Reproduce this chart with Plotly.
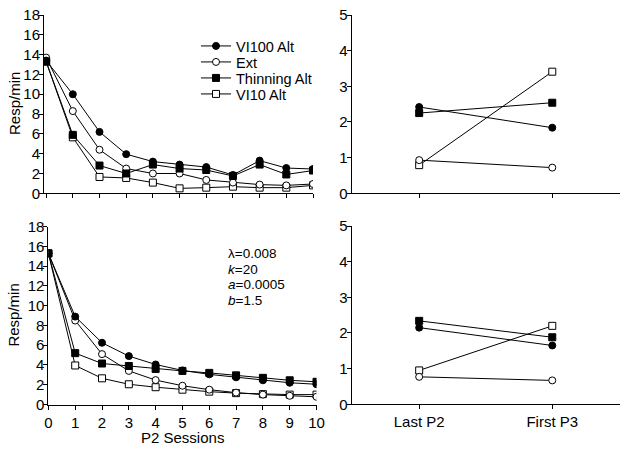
import plotly.graph_objects as go

# ---------------- data ----------------
sessions = list(range(11))
series_names = ["VI100 Alt", "Ext", "Thinning Alt", "VI10 Alt"]

top_vi100 = [13.4, 10.0, 6.2, 3.95, 3.2, 2.9, 2.65, 1.85, 3.3, 2.55, 2.45]
top_ext = [13.7, 8.3, 4.4, 2.5, 2.0, 2.0, 1.35, 1.08, 0.88, 0.8, 0.94]
top_thin = [13.3, 5.9, 2.8, 2.0, 2.9, 2.5, 2.35, 1.75, 2.9, 1.9, 2.3]
top_vi10 = [13.3, 5.65, 1.65, 1.55, 1.08, 0.5, 0.57, 0.67, 0.57, 0.57, 0.8]

bot_vi100 = [15.3, 8.9, 6.25, 4.9, 4.05, 3.45, 3.05, 2.75, 2.45, 2.2, 2.05]
bot_ext = [15.3, 8.5, 5.1, 3.4, 2.47, 1.9, 1.5, 1.2, 1.0, 0.88, 0.78]
bot_thin = [15.3, 5.2, 4.15, 3.9, 3.6, 3.4, 3.2, 2.95, 2.7, 2.45, 2.3]
bot_vi10 = [15.3, 3.95, 2.65, 2.05, 1.75, 1.5, 1.3, 1.15, 1.05, 1.0, 1.0]

phase_labels = ["Last P2", "First P3"]
phase_pos = [0, 1]
top_r_vi100 = [2.42, 1.84]
top_r_ext = [0.93, 0.72]
top_r_thin = [2.25, 2.54]
top_r_vi10 = [0.79, 3.41]

bot_r_vi100 = [2.15, 1.65]
bot_r_ext = [0.77, 0.67]
bot_r_thin = [2.34, 1.88]
bot_r_vi10 = [0.95, 2.2]

left_yticks = list(range(0, 19, 2))
right_yticks = list(range(0, 6))
param_lines = ["λ=0.008", "<i>k</i>=20", "<i>a</i>=0.0005", "<i>b</i>=1.5"]

# ---------------- styling ----------------
W, H = 629, 449
FONT = "Arial, 'Liberation Sans', sans-serif"
filled = [True, False, True, False]
symbols = ["circle", "circle", "square", "square"]


def px_x(p):
    return p / W


def px_y(p):
    return 1 - p / H


fig = go.Figure()

panels = [
    ("x", "y", sessions, [top_vi100, top_ext, top_thin, top_vi10], True),
    ("x2", "y2", phase_pos, [top_r_vi100, top_r_ext, top_r_thin, top_r_vi10], False),
    ("x3", "y3", sessions, [bot_vi100, bot_ext, bot_thin, bot_vi10], False),
    ("x4", "y4", phase_pos, [bot_r_vi100, bot_r_ext, bot_r_thin, bot_r_vi10], False),
]
legend_ids = ["legend", "legend2", "legend3", "legend4"]

for xa, ya, xs, ys_list, show in panels:
    for i in [3, 1, 2, 0]:
        fig.add_trace(go.Scatter(
            x=xs, y=ys_list[i], xaxis=xa, yaxis=ya,
            mode="lines+markers", name=series_names[i],
            line=dict(color="black", width=1),
            marker=dict(symbol=symbols[i], size=7,
                        color="black" if filled[i] else "white",
                        line=dict(color="black", width=1)),
            showlegend=show, legend=legend_ids[i],
        ))

axis_common = dict(
    showline=True, linecolor="black", linewidth=1, mirror=False,
    ticks="outside", ticklen=4, tickwidth=1, tickcolor="black",
    showgrid=False, zeroline=False, automargin=False,
    tickfont=dict(family=FONT, size=15, color="black"),
)
xcommon = dict(axis_common)
ycommon = dict(axis_common, ticklabelstandoff=-4)

fig.update_layout(
    width=W, height=H,
    margin=dict(l=0, r=0, t=0, b=0),
    paper_bgcolor="white", plot_bgcolor="white",
    font=dict(family=FONT, size=14, color="black"),
    xaxis=dict(xcommon, domain=[px_x(44), px_x(313)], range=[-0.08, 10],
               tickvals=sessions, showticklabels=False, anchor="y"),
    yaxis=dict(ycommon, domain=[px_y(193.3), px_y(15)], range=[0, 18],
               tickvals=left_yticks, anchor="x"),
    xaxis2=dict(xcommon, domain=[px_x(351.7), px_x(619.5)], range=[-0.507, 1.505],
                tickvals=phase_pos, showticklabels=False, anchor="y2"),
    yaxis2=dict(ycommon, domain=[px_y(193.3), px_y(15)], range=[0, 5],
                tickvals=right_yticks, anchor="x2"),
    xaxis3=dict(xcommon, domain=[px_x(48.4), px_x(316.5)], range=[0, 10],
                tickvals=sessions, anchor="y3"),
    yaxis3=dict(ycommon, domain=[px_y(404.5), px_y(226.7)], range=[0, 18],
                tickvals=left_yticks, anchor="x3"),
    xaxis4=dict(xcommon, domain=[px_x(351.7), px_x(619.5)], range=[-0.507, 1.505],
                tickvals=phase_pos, ticktext=phase_labels, anchor="y4"),
    yaxis4=dict(ycommon, domain=[px_y(404.3), px_y(226)], range=[0, 5],
                tickvals=right_yticks, anchor="x4"),
)

# axis titles
title_font = dict(family=FONT, size=15, color="black")
fig.add_annotation(text="P2 Sessions", xref="paper", yref="paper",
                   x=px_x(182.5), y=px_y(437), xanchor="center", yanchor="middle",
                   showarrow=False, borderpad=0, font=title_font)
for yc in (104, 315.6):
    fig.add_annotation(text="Resp/min", xref="paper", yref="paper",
                       x=px_x(14), y=px_y(yc), xanchor="center", yanchor="middle",
                       textangle=-90, showarrow=False, borderpad=0, font=title_font)

# legends: one per series so the row spacing can match the reference
legend_rows = [46, 62, 78, 94]
for lid, row in zip(legend_ids, legend_rows):
    fig.update_layout({lid: dict(
        x=px_x(196), y=px_y(row), xanchor="left", yanchor="middle",
        bgcolor="rgba(0,0,0,0)", borderwidth=0, itemwidth=30,
        font=dict(family=FONT, size=14.5, color="black"),
    )})

# model parameter text (slightly tighter line spacing than the default)
param_text = "<br>".join('<span style="font-size:13.5px">%s</span>' % s for s in param_lines)
fig.add_annotation(text=param_text, xref="paper", yref="paper",
                   x=px_x(227), y=px_y(245), xanchor="left", yanchor="top", align="left",
                   showarrow=False, borderpad=0,
                   font=dict(family=FONT, size=12, color="black"))

fig.write_html("out.html", config={"displayModeBar": False},
               post_script="document.body.style.margin='0px';")
